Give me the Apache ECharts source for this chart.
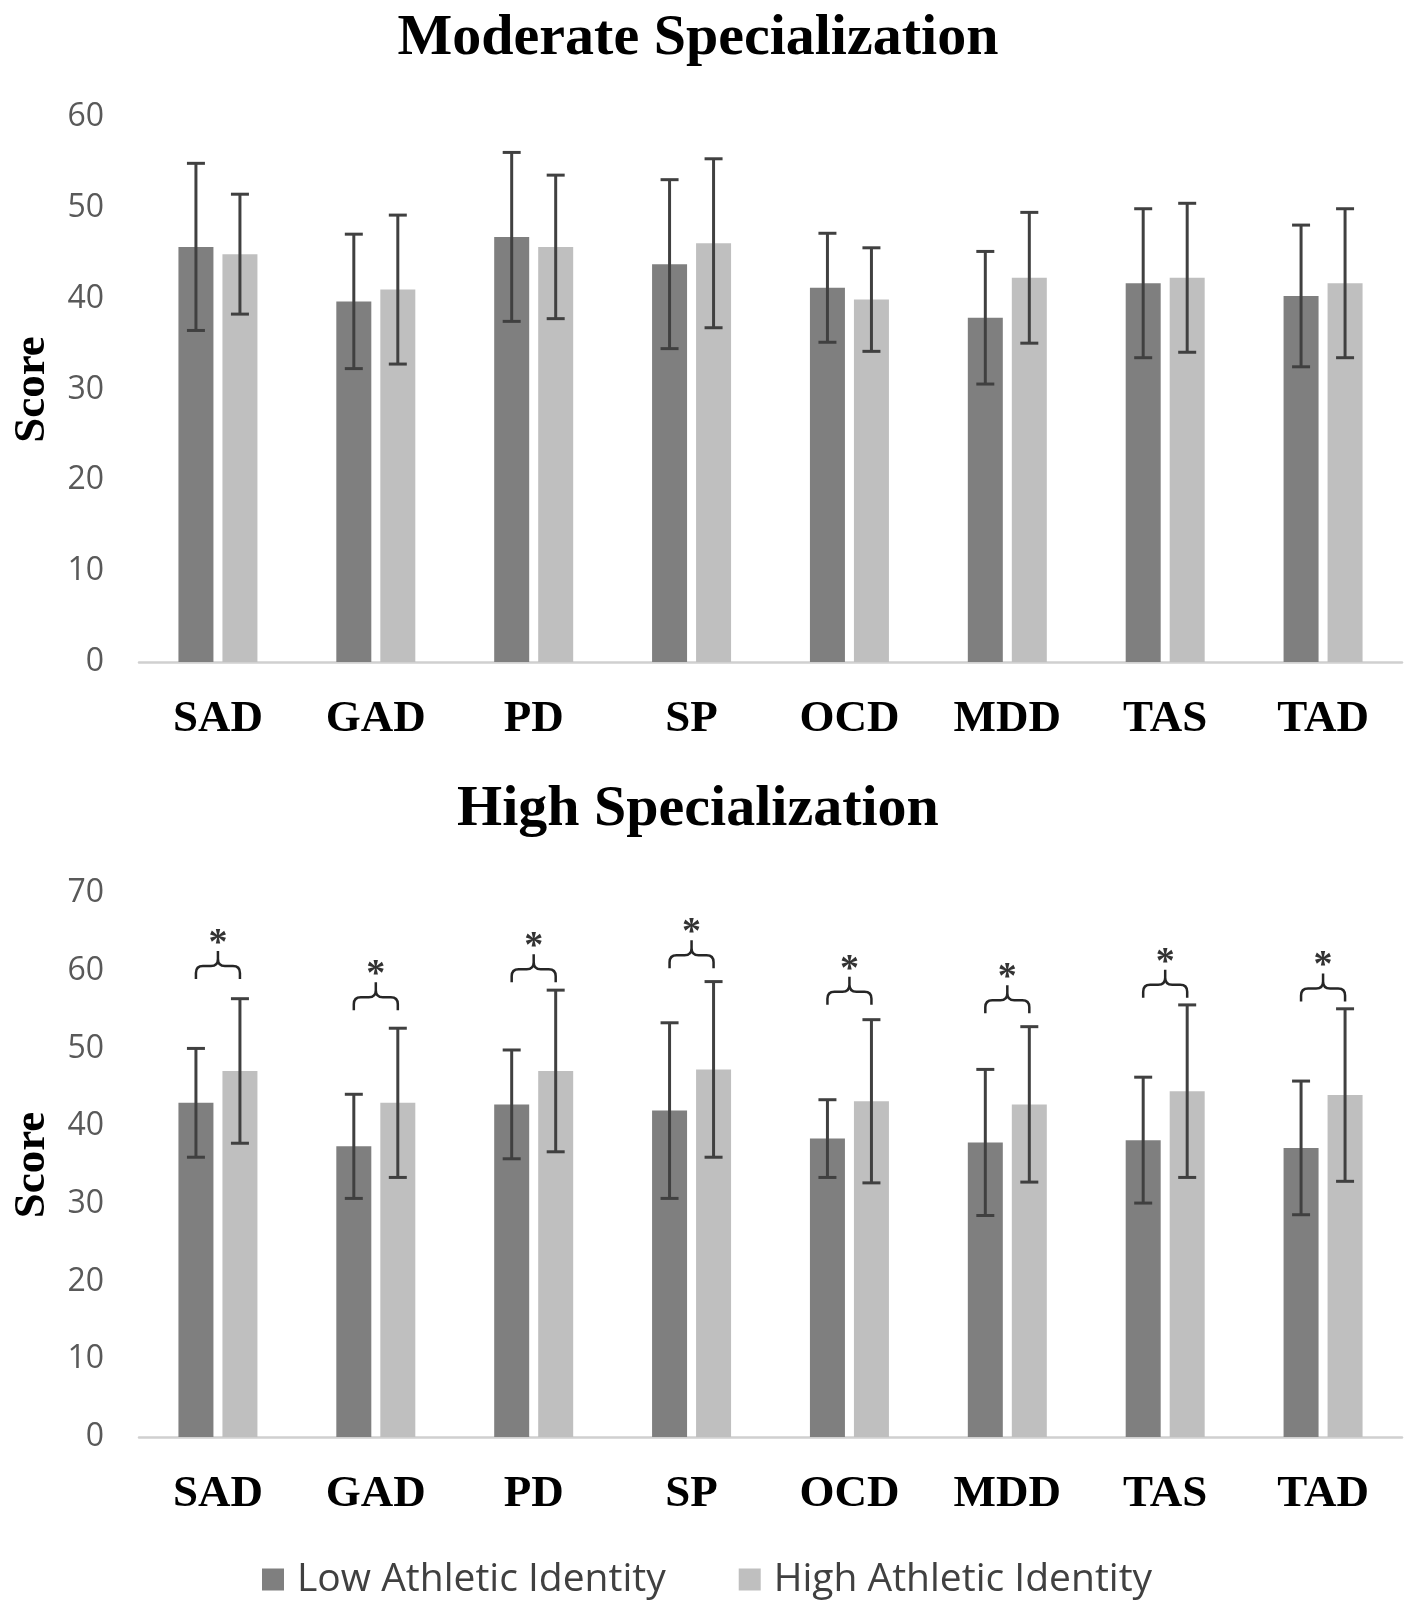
<!DOCTYPE html>
<html lang="en">
<head>
<meta charset="UTF-8">
<title>Moderate / High Specialization</title>
<style>
    html, body { margin: 0; padding: 0; background: #fff; }
</style>
</head>
<body>
<div id="chart" style="width:1417px;height:1617px;"></div>
<script src="https://cdn.jsdelivr.net/npm/echarts@6/dist/echarts.min.js"></script>
<script>
    // categories and group names
    var categories = ['SAD', 'GAD', 'PD', 'SP', 'OCD', 'MDD', 'TAS', 'TAD'];
    var groupNames = ['Low Athletic Identity', 'High Athletic Identity'];

    // moderate specialization: mean and SD
    var modLowMean  = [45.7, 39.7, 46.8, 43.8, 41.2, 37.9, 41.7, 40.3];
    var modLowSd    = [9.2, 7.4, 9.3, 9.3, 6.0, 7.3, 8.2, 7.8];
    var modHighMean = [44.9, 41.0, 45.7, 46.1, 39.9, 42.3, 42.3, 41.7];
    var modHighSd   = [6.6, 8.2, 7.9, 9.3, 5.7, 7.2, 8.2, 8.2];

    // high specialization: mean and SD
    var highLowMean  = [43.0, 37.4, 42.8, 42.0, 38.4, 37.9, 38.2, 37.2];
    var highLowSd    = [7.0, 6.7, 7.0, 11.3, 5.0, 9.4, 8.1, 8.6];
    var highHighMean = [47.1, 43.0, 47.1, 47.3, 43.2, 42.8, 44.5, 44.0];
    var highHighSd   = [9.3, 9.6, 10.4, 11.3, 10.5, 10.0, 11.1, 11.1];

    // level of the significance brace (score units), high specialization
    var sigLevel = [60.6, 56.6, 60.2, 62.0, 57.3, 56.2, 58.2, 57.7];

    var BAR_W = 35;
    var BAR_GAP = 9;
    var HALF = (BAR_W + BAR_GAP) / 2;
    var DARK = '#7f7f7f';
    var LIGHT = '#bfbfbf';
    var ERR = '#404040';
    var SERIF = '"Liberation Serif", "Times New Roman", serif';
    var SANS = '"Open Sans", sans-serif';

    var chart = echarts.init(document.getElementById('chart'));

    function errData(mean, sd) {
        return mean.map(function (m, i) { return [i, m, sd[i]]; });
    }

    function errorRender(offset) {
        return function (params, api) {
            var i = api.value(0), m = api.value(1), s = api.value(2);
            var top = api.coord([i, m + s]);
            var bot = api.coord([i, m - s]);
            var x = top[0] + offset;
            var st = { stroke: ERR, lineWidth: 3 };
            return {
                type: 'group',
                children: [
                    { type: 'line', shape: { x1: x, y1: top[1], x2: x, y2: bot[1] }, style: st },
                    { type: 'line', shape: { x1: x - 9, y1: top[1], x2: x + 9, y2: top[1] }, style: st },
                    { type: 'line', shape: { x1: x - 9, y1: bot[1], x2: x + 9, y2: bot[1] }, style: st }
                ]
            };
        };
    }

    // curly brace over the pair + star
    function braceRender(params, api) {
        var p = api.coord([api.value(0), api.value(1)]);
        var cx = p[0], y = p[1];
        var xl = cx - HALF, xr = cx + HALF;
        var r = 7, leg = 13, tip = 15;
        var d = 'M' + xl + ' ' + (y + leg) + ' L' + xl + ' ' + (y + r) +
            ' Q' + xl + ' ' + y + ' ' + (xl + r) + ' ' + y +
            ' L' + (cx - r) + ' ' + y +
            ' Q' + cx + ' ' + y + ' ' + cx + ' ' + (y - r) +
            ' L' + cx + ' ' + (y - tip) +
            ' M' + xr + ' ' + (y + leg) + ' L' + xr + ' ' + (y + r) +
            ' Q' + xr + ' ' + y + ' ' + (xr - r) + ' ' + y +
            ' L' + (cx + r) + ' ' + y +
            ' Q' + cx + ' ' + y + ' ' + cx + ' ' + (y - r);
        return {
            type: 'group',
            children: [
                {
                    type: 'path',
                    shape: { pathData: d, x: xl, y: y - tip, width: xr - xl, height: tip + leg, layout: 'cover' },
                    style: { stroke: '#262626', lineWidth: 2.5, fill: null }
                },
                {
                    type: 'text',
                    x: cx, y: y - 22,
                    style: { text: '*', font: 'bold 38px ' + SERIF, fill: '#333', align: 'center', verticalAlign: 'middle' }
                }
            ]
        };
    }

    function xAxisOpt(gridIndex) {
        return {
            type: 'category',
            gridIndex: gridIndex,
            data: categories,
            axisTick: { show: false },
            axisLine: { lineStyle: { color: '#d0d0d0', width: 2.5 } },
            axisLabel: { margin: 35, color: '#000', fontFamily: SERIF, fontWeight: 'bold', fontSize: 45 }
        };
    }

    function yAxisOpt(gridIndex, max) {
        return {
            type: 'value',
            gridIndex: gridIndex,
            min: 0,
            max: max,
            interval: 10,
            name: 'Score',
            nameLocation: 'middle',
            nameGap: 84,
            nameTextStyle: { color: '#000', fontFamily: SERIF, fontWeight: 'bold', fontSize: 45 },
            axisLine: { show: false },
            axisTick: { show: false },
            splitLine: { show: false },
            axisLabel: { margin: 35, color: '#595959', fontFamily: SANS, fontSize: 32 }
        };
    }

    function barSeries(name, idx, data, color) {
        return {
            name: name,
            type: 'bar',
            xAxisIndex: idx,
            yAxisIndex: idx,
            barWidth: BAR_W,
            barGap: (BAR_GAP / BAR_W * 100) + '%',
            itemStyle: { color: color },
            silent: true,
            data: data
        };
    }

    function errSeries(idx, mean, sd, offset) {
        return {
            type: 'custom',
            xAxisIndex: idx,
            yAxisIndex: idx,
            z: 10,
            silent: true,
            renderItem: errorRender(offset),
            encode: { x: 0, y: 1 },
            data: errData(mean, sd)
        };
    }

    var option = {
        backgroundColor: '#fff',
        animation: false,
        graphic: [
            {
                type: 'text', x: 698, y: 39,
                style: { text: 'Moderate Specialization', font: 'bold 58px ' + SERIF, fill: '#000', align: 'center', verticalAlign: 'middle' }
            },
            {
                type: 'text', x: 698, y: 810,
                style: { text: 'High Specialization', font: 'bold 58px ' + SERIF, fill: '#000', align: 'center', verticalAlign: 'middle' }
            }
        ],
        legend: {
            data: groupNames,
            left: 262,
            top: 1560,
            padding: 0,
            itemWidth: 22,
            itemHeight: 22,
            itemGap: 73,
            icon: 'rect',
            textStyle: { color: '#404040', fontFamily: SANS, fontSize: 39, padding: [0, 0, 0, 8] }
        },
        grid: [
            { left: 139, right: 15, top: 117, height: 545 },
            { left: 139, right: 15, top: 893, height: 544 }
        ],
        xAxis: [xAxisOpt(0), xAxisOpt(1)],
        yAxis: [yAxisOpt(0, 60), yAxisOpt(1, 70)],
        series: [
            barSeries(groupNames[0], 0, modLowMean, DARK),
            barSeries(groupNames[1], 0, modHighMean, LIGHT),
            barSeries(groupNames[0], 1, highLowMean, DARK),
            barSeries(groupNames[1], 1, highHighMean, LIGHT),
            errSeries(0, modLowMean, modLowSd, -HALF),
            errSeries(0, modHighMean, modHighSd, HALF),
            errSeries(1, highLowMean, highLowSd, -HALF),
            errSeries(1, highHighMean, highHighSd, HALF),
            {
                type: 'custom',
                xAxisIndex: 1,
                yAxisIndex: 1,
                z: 11,
                silent: true,
                renderItem: braceRender,
                encode: { x: 0, y: 1 },
                data: sigLevel.map(function (v, i) { return [i, v]; })
            }
        ]
    };

    chart.setOption(option);
</script>
</body>
</html>
